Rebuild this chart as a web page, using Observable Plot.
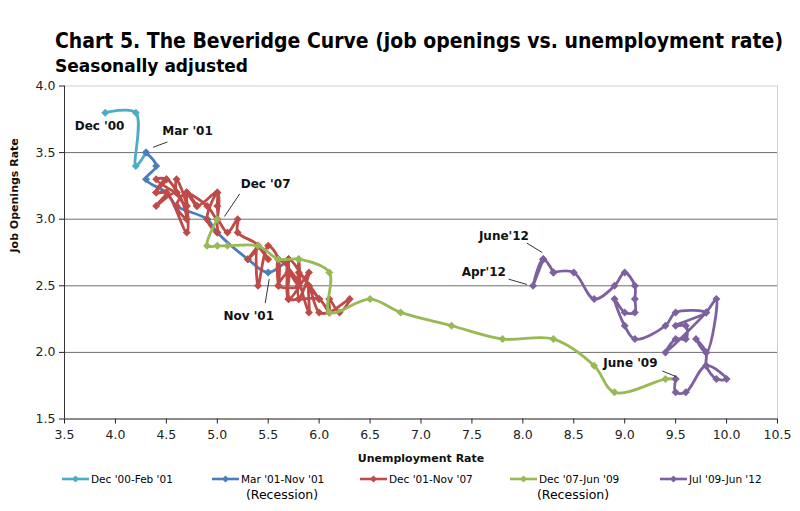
<!DOCTYPE html>
<html>
<head>
<meta charset="utf-8">
<script src="https://cdn.jsdelivr.net/npm/d3@7"></script>
<script src="https://cdn.jsdelivr.net/npm/@observablehq/plot@0.6"></script>
<style>
  html, body { margin: 0; padding: 0; background: #fff; }
  #wrap { position: relative; width: 800px; height: 511px; overflow: hidden; font-family: "DejaVu Sans", sans-serif; color: #000; }
  #chart { position: absolute; left: 0; top: 0; }
  .fit { position: absolute; white-space: nowrap; transform-origin: 0 0; font-weight: bold; line-height: 1; }
  #title { left: 55px; top: 31px; font-size: 21px; }
  #subtitle { left: 55px; top: 57px; font-size: 18px; }
  .leg { position: absolute; top: 472px; height: 14px; display: flex; align-items: center; font-size: 10.5px; white-space: nowrap; }
  .leg svg { margin-right: 2px; }
  .rec { position: absolute; top: 489px; font-size: 12.5px; transform: translateX(-50%); white-space: nowrap; line-height: 1; }
</style>
</head>
<body>
<div id="wrap">
  <div id="chart"></div>
  <div id="title" class="fit">Chart 5. The Beveridge Curve (job openings vs. unemployment rate)</div>
  <div id="subtitle" class="fit">Seasonally adjusted</div>
  <div id="legend"></div>
</div>
<script>
// ---------- data ----------
const seriesNames = ["Dec '00-Feb '01", "Mar '01-Nov '01", "Dec '01-Nov '07", "Dec '07-Jun '09", "Jul '09-Jun '12"];
const seriesColors = ["#4BACC6", "#4A7EBB", "#BE4B48", "#98B954", "#7D60A0"];

// Dec '00 - Feb '01 (plus Mar '01 join)
const ur1 = [3.9, 4.2, 4.2, 4.3];
const jo1 = [3.8, 3.8, 3.4, 3.5];

// Mar '01 - Nov '01 (plus Dec '01 join)
const ur2 = [4.3, 4.4, 4.3, 4.5, 4.6, 4.9, 5.0, 5.3, 5.5, 5.7];
const jo2 = [3.5, 3.4, 3.3, 3.2, 3.1, 3.0, 2.9, 2.7, 2.6, 2.7];

// Dec '01 - Nov '07 (plus Dec '07 join)
const ur3 = [5.7,
  5.7, 5.7, 5.7, 5.9, 5.8, 5.8, 5.8, 5.7, 5.7, 5.7, 5.9, 6.0,
  5.8, 5.9, 5.9, 6.0, 6.1, 6.3, 6.2, 6.1, 6.1, 6.0, 5.8, 5.7,
  5.7, 5.6, 5.8, 5.6, 5.6, 5.6, 5.5, 5.4, 5.4, 5.5, 5.4, 5.4,
  5.3, 5.4, 5.2, 5.2, 5.1, 5.0, 5.0, 4.9, 5.0, 5.0, 5.0, 4.9,
  4.7, 4.8, 4.7, 4.7, 4.6, 4.6, 4.7, 4.7, 4.5, 4.4, 4.5, 4.4,
  4.6, 4.5, 4.4, 4.5, 4.4, 4.6, 4.7, 4.6, 4.7, 4.8, 5.0,
  5.0];
const jo3 = [2.7,
  2.6, 2.7, 2.4, 2.6, 2.4, 2.7, 2.5, 2.6, 2.4, 2.7, 2.5, 2.4,
  2.6, 2.3, 2.5, 2.3, 2.3, 2.4, 2.3, 2.4, 2.3, 2.4, 2.4, 2.4,
  2.6, 2.5, 2.5, 2.7, 2.5, 2.7, 2.8, 2.5, 2.8, 2.7, 2.8, 2.8,
  2.7, 2.8, 2.9, 3.0, 2.9, 3.0, 2.9, 3.0, 3.2, 3.1, 3.0, 3.1,
  3.2, 3.1, 3.2, 3.1, 3.2, 3.3, 3.1, 2.9, 3.2, 3.2, 3.3, 3.3,
  3.2, 3.3, 3.2, 3.2, 3.1, 3.2, 3.0, 3.1, 3.2, 3.1, 3.2,
  3.0];

// Dec '07 - Jun '09
const ur4 = [5.0, 4.9, 5.0, 5.1, 5.4, 5.6, 5.8, 6.1, 6.1, 6.5, 6.8, 7.3, 7.8, 8.3, 8.7, 8.9, 9.4, 9.5];
const jo4 = [3.0, 2.8, 2.8, 2.8, 2.8, 2.7, 2.7, 2.6, 2.3, 2.4, 2.3, 2.2, 2.1, 2.1, 1.9, 1.7, 1.8, 1.8];

// Jul '09 - Jun '12 (starting from Jun '09 join)
const ur5 = [9.5,
  9.5, 9.6, 9.8, 10.0, 9.9, 9.8,
  9.8, 9.7, 9.8, 9.9, 9.8, 9.4, 9.5, 9.6, 9.6, 9.5, 9.8, 9.5,
  9.4, 9.1, 9.0, 8.9, 9.0, 9.1, 9.1, 9.1, 9.0, 8.9, 8.7, 8.5,
  8.3, 8.3, 8.2, 8.1, 8.2, 8.2];
const jo5 = [1.8,
  1.7, 1.7, 1.9, 1.8, 1.8, 1.9,
  2.0, 2.1, 2.0, 2.4, 2.3, 2.0, 2.1, 2.1, 2.2, 2.2, 2.3, 2.3,
  2.2, 2.1, 2.2, 2.4, 2.3, 2.3, 2.4, 2.5, 2.6, 2.5, 2.4, 2.6,
  2.6, 2.6, 2.7, 2.5, 2.7, 2.7];

const urSeries = [ur1, ur2, ur3, ur4, ur5];
const joSeries = [jo1, jo2, jo3, jo4, jo5];

// Axis ticks
const xTicks = [3.5, 4.0, 4.5, 5.0, 5.5, 6.0, 6.5, 7.0, 7.5, 8.0, 8.5, 9.0, 9.5, 10.0, 10.5];
const yTicks = [1.5, 2.0, 2.5, 3.0, 3.5, 4.0];
const gridTicks = [2.0, 2.5, 3.0, 3.5];

// Annotations: label, text anchor position, leader line
const annLabels = ["Dec '00", "Mar '01", "Dec '07", "Nov '01", "June'12", "Apr'12", "June '09"];
const annX = [3.60, 4.46, 5.23, 5.06, 8.06, 7.40, 8.79];
const annY = [3.70, 3.66, 3.26, 2.27, 2.87, 2.60, 1.92];
const annAnchor = ["start", "start", "start", "start", "end", "start", "start"];
const leadX1 = [null, 4.37, 5.22, 5.47, 8.04, 7.86, 9.37];
const leadY1 = [null, 3.54, 3.19, 2.37, 2.82, 2.55, 1.86];
const leadX2 = [null, 4.51, 5.07, 5.51, 8.19, 8.04, 9.50];
const leadY2 = [null, 3.58, 3.02, 2.55, 2.75, 2.51, 1.82];

// ---------- build ----------
const data = seriesNames.flatMap((s, k) => urSeries[k].map((u, i) => ({s, i, ur: u, jo: joSeries[k][i]})));
const anns = annLabels.map((label, i) => ({label, x: annX[i], y: annY[i], anchor: annAnchor[i],
  x1: leadX1[i], y1: leadY1[i], x2: leadX2[i], y2: leadY2[i]}));

const fmt = d3.format(".1f");
const seriesMarks = seriesNames.flatMap((s, k) => {
  const rows = data.filter(d => d.s === s);
  return [
    Plot.line(rows, {x: "ur", y: "jo", stroke: "s", strokeWidth: 2.8, curve: "catmull-rom", strokeLinejoin: "round"}),
    Plot.dot(rows, {x: "ur", y: "jo", fill: "s", symbol: "diamond2", r: 3.6, stroke: "none"})
  ];
});

const chart = Plot.plot({
  width: 800,
  height: 470,
  marginTop: 85.5,
  marginBottom: 51.5,
  marginLeft: 64,
  marginRight: 23,
  x: {domain: [3.5, 10.5], label: null},
  y: {domain: [1.5, 4.0], label: null},
  color: {domain: seriesNames, range: seriesColors},
  style: {fontFamily: "DejaVu Sans, sans-serif", fontSize: "12.5px", color: "#222", background: "transparent", overflow: "visible"},
  marks: [
    Plot.frame({stroke: "#d0d0d0"}),
    Plot.gridY(gridTicks, {stroke: "#6e6e6e", strokeOpacity: 1}),
    Plot.axisX({ticks: xTicks, tickFormat: fmt, tickSize: 5, tickPadding: 6, label: null, fontSize: 12.5}),
    Plot.axisY({ticks: yTicks, tickFormat: fmt, tickSize: 5, tickPadding: 4, label: null, fontSize: 12.5}),
    Plot.ruleX([3.5], {stroke: "#333"}),
    Plot.ruleY([1.5], {stroke: "#333"}),
    ...seriesMarks,
    Plot.link(anns.filter(d => d.x1 != null), {x1: "x1", y1: "y1", x2: "x2", y2: "y2", stroke: "#000", strokeWidth: 0.8}),
    Plot.text(anns.filter(d => d.anchor === "start"), {x: "x", y: "y", text: "label", textAnchor: "start", fontWeight: "bold", fontSize: 12, fill: "#111"}),
    Plot.text(anns.filter(d => d.anchor === "end"), {x: "x", y: "y", text: "label", textAnchor: "end", fontWeight: "bold", fontSize: 12, fill: "#111"}),
    Plot.text(["Unemployment Rate"], {text: d => d, frameAnchor: "bottom", dy: 42.5, fontWeight: "bold", fontSize: 11, fill: "#111"}),
    Plot.text(["Job Openings Rate"], {text: d => d, frameAnchor: "left", dx: -50, rotate: -90, fontWeight: "bold", fontSize: 11, fill: "#111"})
  ]
});
document.getElementById("chart").appendChild(chart);

// ---------- legend ----------
const legendLeft = [62, 212, 360, 510, 660];
const legend = document.getElementById("legend");
seriesNames.forEach((s, k) => {
  const item = document.createElement("div");
  item.className = "leg";
  item.style.left = legendLeft[k] + "px";
  const c = seriesColors[k];
  item.innerHTML = `<svg width="27" height="10"><line x1="0" y1="5" x2="27" y2="5" stroke="${c}" stroke-width="2.6"/><path d="M13.5 1.5 L17 5 L13.5 8.5 L10 5 Z" fill="${c}"/></svg><span>${s}</span>`;
  legend.appendChild(item);
});
const recessionNotes = ["(Recession)", "(Recession)"];
const recessionX = [282, 573];
recessionNotes.forEach((t, i) => {
  const el = document.createElement("div");
  el.className = "rec";
  el.style.left = recessionX[i] + "px";
  el.textContent = t;
  legend.appendChild(el);
});

// ---------- fit title widths ----------
function fit(id, target) {
  const el = document.getElementById(id);
  const w = el.getBoundingClientRect().width;
  if (w > 0) el.style.transform = `scaleX(${target / w})`;
}
fit("title", 728);
fit("subtitle", 193);
</script>
</body>
</html>
